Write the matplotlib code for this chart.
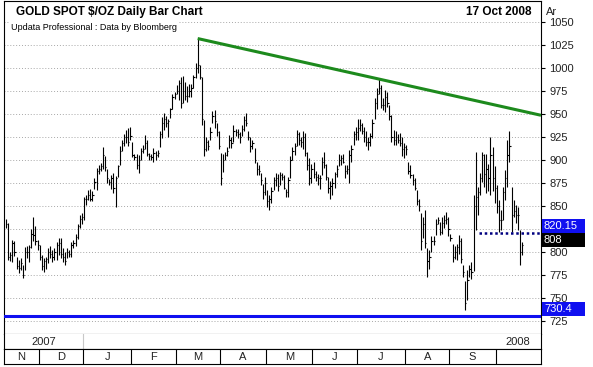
import matplotlib.pyplot as plt
from matplotlib.patches import Rectangle
from matplotlib.transforms import blended_transform_factory
import numpy as np
import pandas as pd

plt.rcParams['font.family'] = ['Liberation Sans', 'DejaVu Sans']

# daily bars, one per weekday from 9 Nov 2007 to 17 Oct 2008
start_date = '2007-11-09'

highs = [
    836, 831, 800, 813, 812, 795, 791, 793, 786, 805, 806, 808, 825, 838, 828, 813,  # Nov
    808, 797, 793, 795, 804, 806, 802, 804, 811, 815, 815, 804, 800, 804, 802, 811, 813, 820, 830, 840, 842,  # Dec
    860, 862, 867, 868, 866, 880, 891, 895, 897, 914, 904, 890, 879, 884, 886, 883, 895, 915, 922, 928, 933, 935, 936,  # Jan
    920, 906, 906, 905, 913, 916, 927, 922, 908, 907, 913, 910, 911, 931, 947, 951, 948, 945, 957, 972, 974,  # Feb
    981, 987, 990, 991, 985, 980, 983, 983, 992, 1005, 1032, 1003, 990, 943, 925, 922, 936, 953, 954, 940, 931,  # Mar
    908, 907, 909, 914, 927, 925, 938, 934, 934, 930, 938, 948, 951, 931, 925, 922, 913, 898, 895, 886, 874, 882,  # Apr
    867, 862, 871, 882, 886, 885, 887, 886, 884, 869, 882, 904, 914, 918, 933, 930, 925, 931, 929, 909, 902, 896,  # May
    898, 888, 885, 884, 903, 909, 896, 882, 877, 880, 887, 895, 907, 905, 907, 895, 895, 911, 916, 931, 936,  # Jun
    945, 945, 940, 936, 931, 925, 929, 945, 967, 978, 988, 982, 967, 976, 974, 960, 949, 933, 931, 928, 929, 925, 918,  # Jul
    916, 898, 895, 885, 880, 867, 858, 842, 838, 846, 804, 802, 817, 817, 836, 838, 833, 838, 840, 844, 838,  # Aug
    820, 809, 806, 809, 818, 815, 786, 768, 780, 786, 789, 862, 909, 871, 886, 909, 906, 907, 896, 925, 914, 893,  # Sep
    873, 857, 846, 871, 889, 922, 931, 871, 857, 851, 849, 824, 811,  # Oct
]
lows = [
    826, 791, 790, 789, 796, 782, 777, 780, 772, 780, 794, 789, 804, 812, 808, 802,
    791, 780, 778, 782, 788, 793, 789, 791, 791, 797, 793, 789, 786, 793, 795, 795, 804, 806, 814, 826, 830,
    835, 851, 856, 855, 855, 868, 867, 885, 888, 890, 888, 875, 873, 868, 864, 849, 882, 895, 910, 915, 918, 915, 922,
    903, 900, 890, 886, 900, 908, 912, 904, 900, 900, 898, 900, 903, 914, 924, 933, 936, 925, 946, 955, 966,
    972, 965, 956, 962, 965, 963, 968, 968, 978, 989, 995, 988, 938, 904, 910, 911, 922, 940, 935, 926, 912,
    873, 887, 900, 904, 913, 913, 920, 926, 924, 918, 926, 932, 937, 922, 909, 912, 897, 884, 884, 873, 858, 862,
    849, 846, 853, 867, 872, 866, 873, 878, 868, 860, 860, 880, 900, 905, 915, 916, 914, 912, 904, 889, 873, 875,
    880, 877, 873, 869, 884, 891, 878, 864, 858, 862, 870, 882, 893, 895, 897, 880, 885, 875, 898, 916, 922,
    922, 931, 928, 920, 915, 911, 915, 924, 945, 955, 972, 956, 954, 952, 958, 944, 920, 916, 916, 918, 915, 904, 902,
    905, 885, 880, 873, 867, 851, 845, 802, 815, 804, 773, 782, 800, 808, 818, 830, 818, 820, 826, 830, 817,
    812, 789, 792, 791, 798, 788, 773, 737, 748, 773, 771, 779, 824, 840, 862, 876, 871, 864, 866, 862, 866, 853,
    842, 822, 824, 835, 857, 871, 898, 822, 838, 831, 824, 786, 797,
]
closes = [
    830, 795, 797, 810, 800, 785, 783, 788, 775, 800, 800, 805, 820, 818, 812, 808,
    795, 785, 790, 792, 800, 798, 795, 800, 808, 810, 798, 795, 790, 800, 798, 808, 810, 816, 828, 836, 838,
    858, 858, 862, 858, 862, 876, 888, 890, 894, 905, 892, 880, 876, 880, 870, 880, 893, 910, 918, 925, 925, 920, 926,
    905, 903, 895, 900, 910, 912, 918, 906, 904, 903, 908, 905, 908, 928, 940, 945, 940, 942, 955, 968, 972,
    975, 984, 962, 975, 970, 970, 975, 978, 990, 1000, 1003, 990, 945, 912, 920, 915, 930, 948, 942, 930, 915,
    880, 900, 905, 910, 922, 918, 932, 930, 928, 925, 934, 944, 940, 925, 915, 918, 900, 890, 888, 878, 865, 875,
    855, 858, 866, 878, 880, 872, 884, 882, 870, 865, 878, 900, 910, 915, 928, 922, 920, 925, 908, 895, 880, 890,
    885, 882, 880, 880, 898, 895, 882, 870, 872, 875, 885, 890, 900, 902, 898, 888, 890, 905, 912, 928, 930,
    935, 938, 932, 925, 920, 920, 926, 940, 962, 972, 978, 960, 960, 968, 962, 948, 925, 922, 925, 922, 918, 912, 914,
    912, 888, 884, 878, 870, 855, 850, 812, 830, 810, 790, 795, 812, 812, 830, 835, 822, 832, 835, 836, 825,
    815, 795, 800, 805, 812, 792, 778, 745, 770, 782, 778, 850, 860, 865, 880, 905, 885, 890, 880, 905, 880, 870,
    850, 835, 835, 865, 880, 905, 915, 840, 845, 840, 840, 800, 808,
]

month_labels = ['N', 'D', 'J', 'F', 'M', 'A', 'M', 'J', 'J', 'A', 'S', '']
y_ticks = list(range(725, 1051, 25))
peak_dates = ['2008-03-17', '2008-07-15']   # trend line through these highs
support_level = 820.15
support_from = '2008-09-18'
last_close = 808
base_level = 730.4

dates = pd.bdate_range(start_date, periods=len(highs))
x = np.arange(len(highs))
xmin, xmax = -0.95, 254.0
ymin, ymax = 710.9, 1072.8

W, H = 593, 367
def px_box(x0, y0, x1, y1):
    return [x0 / W, 1 - y1 / H, (x1 - x0) / W, (y1 - y0) / H]

fig = plt.figure(figsize=(W / 100, H / 100), dpi=100)
ax = fig.add_axes(px_box(4, 1, 541, 334))
ax_yr = fig.add_axes(px_box(4, 334, 541, 349))
ax_mo = fig.add_axes(px_box(4, 349, 541, 364))

# bars (high-low with close tick)
ax.vlines(x, lows, highs, color='black', lw=0.8, zorder=3)
ax.hlines(closes, x, x + 0.6, color='black', lw=0.8, zorder=3)

# trend line through the two peaks
i1, i2 = [dates.get_loc(pd.Timestamp(d)) for d in peak_dates]
slope = (highs[i2] - highs[i1]) / (i2 - i1)
tx = np.array([i1, xmax])
ax.plot(tx, highs[i1] + slope * (tx - i1), color='#1d8a1d', lw=2.2, zorder=4,
        solid_capstyle='butt')

# horizontal levels
ax.axhline(base_level, color='#1010f0', lw=2.2, zorder=4)
s0 = dates.get_loc(pd.Timestamp(support_from)) + 0.5
ax.hlines(support_level, s0, xmax, color='#000080', lw=1.8,
          linestyle=(0, (1, 1.1)), zorder=4)

ax.set_xlim(xmin, xmax)
ax.set_ylim(ymin, ymax)
ax.yaxis.tick_right()
ax.set_yticks(y_ticks)
# the 825 label sits under the 820.15 box in the original, so leave it blank
ax.set_yticklabels(['' if t == 825 else str(t) for t in y_ticks])
ax.tick_params(axis='y', direction='out', length=3, width=0.8, pad=3,
               labelsize=8, labelcolor='#222222')
ax.tick_params(axis='x', bottom=False, labelbottom=False)
ax.grid(axis='y', color='#a8a8a8', lw=0.7, linestyle=(0, (1, 2)))
ax.set_axisbelow(True)
for s in ax.spines.values():
    s.set_linewidth(0.8)

# value boxes on the right axis
trans = blended_transform_factory(ax.transAxes, ax.transData)
bw = 43 / 537
bh = 14 / 0.92
boxes = [(support_level, support_level + bh, '#1010f0', f'{support_level:.2f}'),
         (support_level - bh, support_level, 'black', f'{last_close}'),
         (base_level, base_level + bh, '#1010f0', f'{base_level}')]
for y0, y1, c, txt in boxes:
    ax.add_patch(Rectangle((1 + 1 / 537, y0), bw, y1 - y0, transform=trans,
                           facecolor=c, edgecolor='none', clip_on=False, zorder=5))
    ax.text(1 + 3 / 537, (y0 + y1) / 2, txt, transform=trans, color='white',
            fontsize=8, va='center', ha='left', zorder=6, clip_on=False)

# titles
fig.text(16 / W, 1 - 12 / H, 'GOLD SPOT $/OZ Daily Bar Chart', fontsize=8.5,
         fontweight='bold', va='center', ha='left')
fig.text(532 / W, 1 - 12 / H, '17 Oct 2008', fontsize=8.5,
         fontweight='bold', va='center', ha='right')
fig.text(11 / W, 1 - 27 / H, 'Updata Professional : Data by Bloomberg', fontsize=6.5,
         va='center', ha='left', bbox=dict(facecolor='white', edgecolor='none', pad=0.5))
fig.text(546 / W, 1 - 12 / H, 'Ar', fontsize=8, va='center', ha='left', color='#222222')

# year and month rows
month_id = dates.year * 12 + dates.month
starts = np.flatnonzero(np.diff(month_id)) + 1
edges = np.concatenate([[xmin], starts - 0.5, [xmax]])
year_edge = starts[1] - 0.5

for a in (ax_yr, ax_mo):
    a.set_xlim(xmin, xmax)
    a.set_ylim(0, 1)
    a.set_xticks([])
    a.set_yticks([])
    for s in a.spines.values():
        s.set_linewidth(0.8)
ax_yr.spines['top'].set_visible(False)

ax_yr.axvline(year_edge, color='#c8c8c8', lw=0.8)
ax_yr.text((xmin + year_edge) / 2, 0.45, '2007', ha='center', va='center',
           fontsize=8, color='#222222')
ax_yr.text(249, 0.45, '2008', ha='right', va='center', fontsize=8, color='#222222')

for e in starts - 0.5:
    ax_mo.axvline(e, color='black', lw=0.8)
for lab, a0, a1 in zip(month_labels, edges[:-1], edges[1:]):
    ax_mo.text((a0 + a1) / 2, 0.45, lab, ha='center', va='center',
               fontsize=8, color='#222222')

fig.savefig('out.png', dpi=100)
